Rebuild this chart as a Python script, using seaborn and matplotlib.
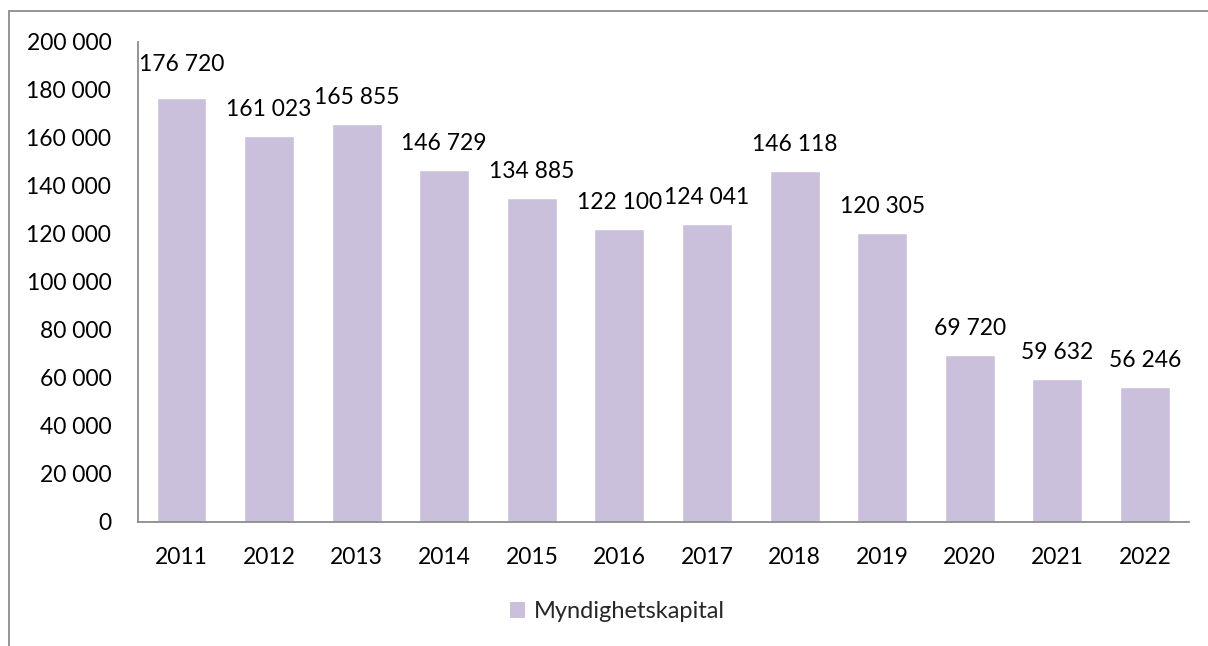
import matplotlib
matplotlib.use("Agg")
import matplotlib.pyplot as plt
from matplotlib.lines import Line2D
from matplotlib.patches import Patch
from matplotlib.ticker import FuncFormatter
import seaborn as sns
import pandas as pd

years = ["2011", "2012", "2013", "2014", "2015", "2016",
         "2017", "2018", "2019", "2020", "2021", "2022"]
kapital = [176720, 161023, 165855, 146729, 134885, 122100,
           124041, 146118, 120305, 69720, 59632, 56246]
series_name = "Myndighetskapital"

bar_color = "#cbc0db"
grey = "#8c8c8c"

sns.set_theme(style="white")
plt.rcParams["font.family"] = ["Lato", "DejaVu Sans"]

def fmt(v, pos=None):
    return f"{int(v):,}".replace(",", " ")

df = pd.DataFrame({"year": years, "value": kapital})

fig = plt.figure(figsize=(12.08, 6.46), dpi=100)
ax = fig.add_axes([0.114, 0.192, 0.870, 0.743])
sns.barplot(data=df, x="year", y="value", color=bar_color, width=0.57,
            saturation=1, ax=ax)

ax.set_ylim(0, 200000)
ax.set_xlim(-0.5, len(years) - 0.5)
ax.set_yticks(range(0, 200001, 20000))
ax.yaxis.set_major_formatter(FuncFormatter(fmt))
ax.set_xlabel("")
ax.set_ylabel("")
ax.tick_params(axis="both", length=0, labelsize=16.5, colors="black")
ax.tick_params(axis="y", pad=19)
ax.tick_params(axis="x", pad=18)

for s in ["top", "right"]:
    ax.spines[s].set_visible(False)
for s in ["left", "bottom"]:
    ax.spines[s].set_color(grey)
    ax.spines[s].set_linewidth(1.3)

# data labels above bars (first one sits a bit higher, like the original)
for i, v in enumerate(kapital):
    off = 24 if i == 0 else 19
    ax.annotate(fmt(v), (i, v), xytext=(0, off), textcoords="offset points",
                ha="center", va="center", fontsize=16.5, color="black")

handles = [Patch(facecolor=bar_color, edgecolor="none")]
fig.legend(handles, [series_name], loc="center", bbox_to_anchor=(0.511, 0.053),
           frameon=False, fontsize=17, handlelength=0.63, handleheight=0.63,
           handletextpad=0.4)

# chart-area border (left and top edges visible)
fig.add_artist(Line2D([0.0075, 0.0075], [0.0, 0.983], transform=fig.transFigure,
                      color=grey, lw=1.3))
fig.add_artist(Line2D([0.0075, 1.0], [0.983, 0.983], transform=fig.transFigure,
                      color=grey, lw=1.3))

fig.savefig("out.png", dpi=100)
